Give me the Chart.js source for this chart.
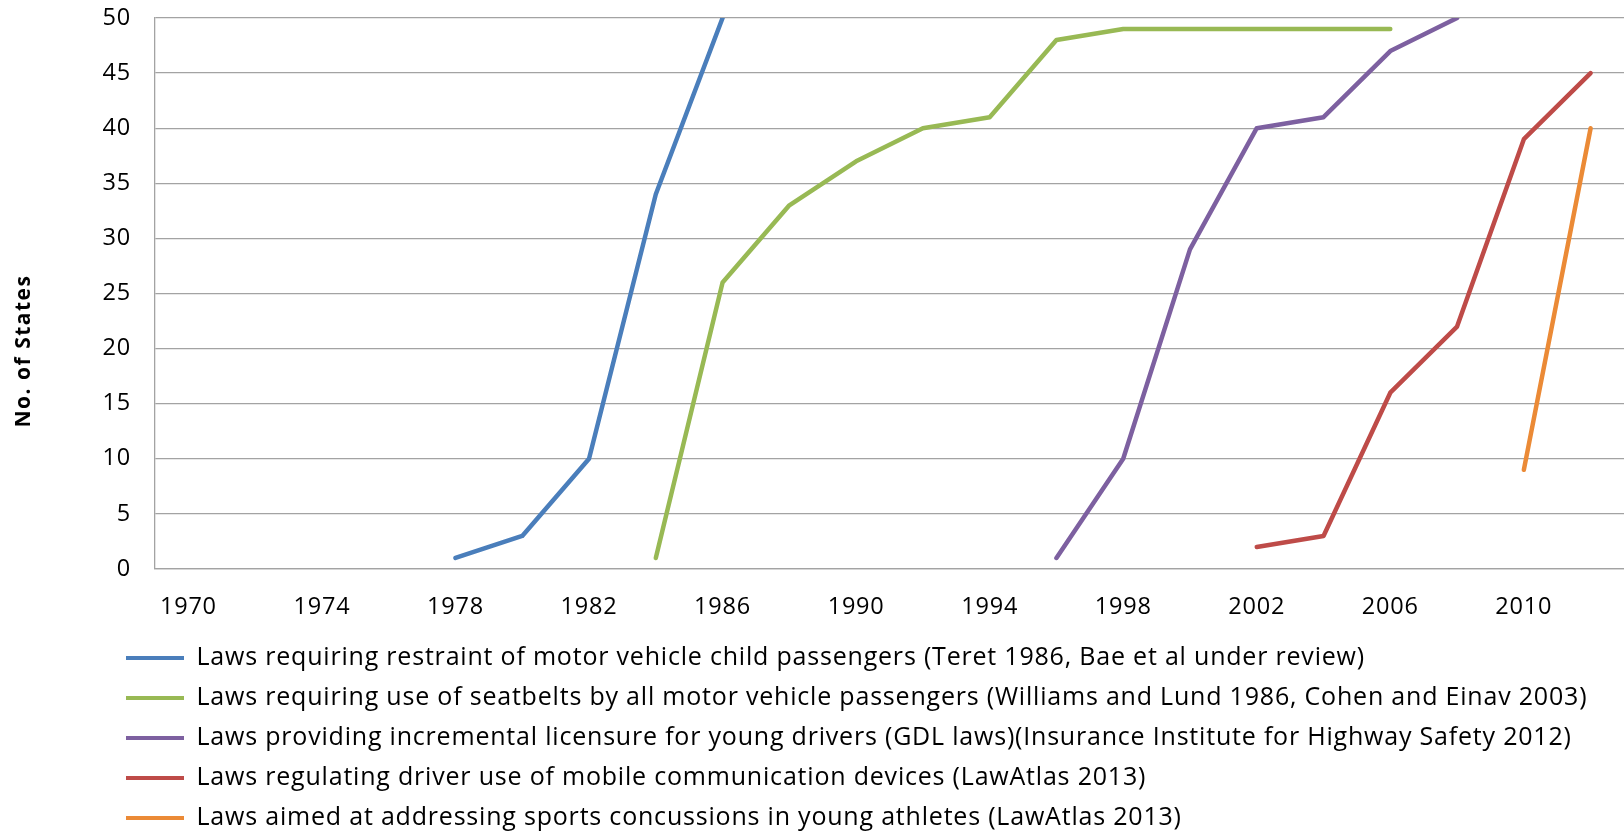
<!DOCTYPE html>
<html><head><meta charset="utf-8">
<script src="https://cdn.jsdelivr.net/npm/chart.js@4.4.0/dist/chart.umd.min.js"></script>
<style>html,body{margin:0;padding:0;background:#fff;overflow:hidden}#wrap{width:1624px;height:834px;position:relative}</style>
</head><body><div id="wrap"><canvas id="c"></canvas></div>
<script>
const years = ['1970','1972','1974','1976','1978','1980','1982','1984','1986','1988','1990','1992','1994','1996','1998','2000','2002','2004','2006','2008','2010','2012'];
const xTickLabels = ['1970','1974','1978','1982','1986','1990','1994','1998','2002','2006','2010'];
const yTicks = [0,5,10,15,20,25,30,35,40,45,50];
const yAxisTitle = 'No. of States';

const seriesNames = [
  'Laws requiring restraint of motor vehicle child passengers (Teret 1986, Bae et al under review)',
  'Laws requiring use of seatbelts by all motor vehicle passengers (Williams and Lund 1986, Cohen and Einav 2003)',
  'Laws providing incremental licensure for young drivers (GDL laws)(Insurance Institute for Highway Safety 2012)',
  'Laws regulating driver use of mobile communication devices (LawAtlas 2013)',
  'Laws aimed at addressing sports concussions in young athletes (LawAtlas 2013)'
];
const childRestraint = [null,null,null,null,1,3,10,34,50,null,null,null,null,null,null,null,null,null,null,null,null,null];
const seatbelts      = [null,null,null,null,null,null,null,1,26,33,37,40,41,48,49,49,49,49,49,null,null,null];
const gdl            = [null,null,null,null,null,null,null,null,null,null,null,null,null,1,10,29,40,41,47,50,null,null];
const mobileDevices  = [null,null,null,null,null,null,null,null,null,null,null,null,null,null,null,null,2,3,16,22,39,45];
const concussions    = [null,null,null,null,null,null,null,null,null,null,null,null,null,null,null,null,null,null,null,null,9,40];
const colors = ['#4A7EBB','#98B954','#7D60A0','#BE4B48','#EB8A36'];

const FONT = '"Open Sans", Lato, sans-serif';
const SPACING = '0.8px';
const gridColor = '#a3a3a3';

const spacingPlugin = {
  id: 'spacing',
  beforeUpdate(chart) { chart.ctx.letterSpacing = SPACING; },
  beforeDraw(chart) { chart.ctx.letterSpacing = SPACING; }
};
const yTitlePlugin = {
  id: 'yTitle',
  afterDraw(chart) {
    const ctx = chart.ctx;
    ctx.save();
    ctx.translate(24, 351);
    ctx.rotate(-Math.PI / 2);
    ctx.font = 'bold 21px ' + FONT;
    ctx.letterSpacing = '1.5px';
    ctx.fillStyle = '#000';
    ctx.textAlign = 'center';
    ctx.textBaseline = 'middle';
    ctx.fillText(yAxisTitle, 0, 0);
    ctx.restore();
  }
};
const legendShift = {
  id: 'legendShift',
  afterLayout(chart) {
    const lg = chart.legend;
    if (!lg) return;
    lg.left += 111; lg.right += 111;
    lg.top += 6.5; lg.bottom += 6.5;
  }
};

const arrays = [childRestraint, seatbelts, gdl, mobileDevices, concussions];
new Chart(document.getElementById('c'), {
  type: 'line',
  data: {
    labels: years,
    datasets: arrays.map((d, i) => ({
      label: seriesNames[i],
      data: d,
      borderColor: colors[i],
      backgroundColor: colors[i],
      borderWidth: 4.5,
      pointRadius: 0,
      pointHoverRadius: 0,
      tension: 0,
      spanGaps: false,
      borderCapStyle: 'round',
      borderJoinStyle: 'round',
      fill: false
    }))
  },
  options: {
    responsive: true,
    maintainAspectRatio: false,
    animation: false,
    layout: { padding: 0 },
    plugins: {
      tooltip: { enabled: false },
      legend: {
        position: 'bottom',
        align: 'start',
        labels: {
          boxWidth: 58,
          boxHeight: 4,
          padding: 15,
          color: '#000',
          font: { family: FONT, size: 25 },
          generateLabels(chart) {
            return Chart.defaults.plugins.legend.labels.generateLabels(chart).map(it => ({ ...it, fillStyle: it.strokeStyle, lineWidth: 0 }));
          }
        }
      }
    },
    scales: {
      x: {
        type: 'category',
        offset: true,
        grid: { display: false, drawTicks: false },
        border: { display: true, color: gridColor, width: 1.3 },
        ticks: {
          autoSkip: false, maxRotation: 0, minRotation: 0, padding: 24,
          color: '#000', font: { family: FONT, size: 23.5 },
          callback(v, i) { return xTickLabels.includes(years[i]) ? years[i] : null; }
        },
        afterFit(s) { s.height = 55; s.paddingLeft = 0; s.paddingRight = 0; }
      },
      y: {
        min: 0, max: 50,
        afterBuildTicks(s) { s.ticks = yTicks.map(v => ({ value: v })); },
        grid: { color: gridColor, lineWidth: 1.3, drawTicks: false },
        border: { display: true, color: gridColor, width: 1.3 },
        ticks: { padding: 24, color: '#000', font: { family: FONT, size: 23.5 } },
        afterFit(s) { s.width = 155; s.paddingTop = 18; s.paddingBottom = 0; }
      }
    }
  },
  plugins: [spacingPlugin, yTitlePlugin, legendShift]
});
</script></body></html>
